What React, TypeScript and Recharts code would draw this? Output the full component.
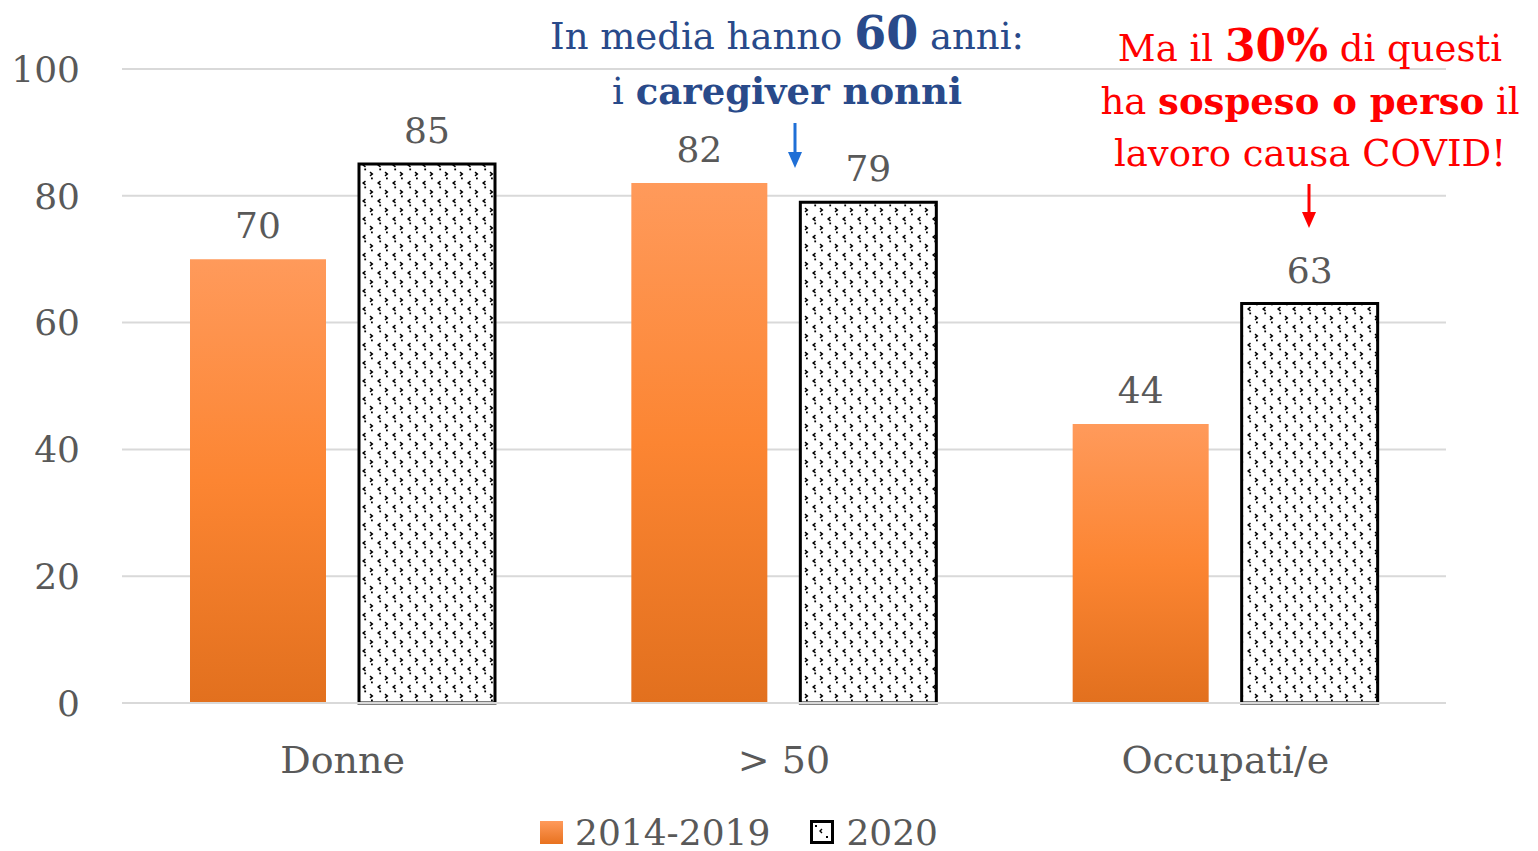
import React from 'react';
import { BarChart, Bar, XAxis, YAxis, CartesianGrid, LabelList, Legend } from 'recharts';

const categories = ['Donne', '> 50', 'Occupati/e'];
const series2014_2019 = [70, 82, 44];
const series2020 = [85, 79, 63];
const yTicks = [0, 20, 40, 60, 80, 100];
const seriesNames = ['2014-2019', '2020'];

const data = categories.map((c, i) => ({ cat: c, a: series2014_2019[i], b: series2020[i] }));

const FONT = '"DejaVu Serif", serif';
const GRAY = '#595959';
const BLUE = '#294A8A';
const RED = '#FF0000';

const PatternSwatch = ({ size }: { size: number }) => (
  <svg width={size} height={size} style={{ display: 'block' }}>
    <rect x={1.5} y={1.5} width={size - 3} height={size - 3} fill="#fff" stroke="#000" strokeWidth={3} />
    <path d="M12 9 L10 11 L12 13" stroke="#000" strokeWidth={1.4} fill="none" />
    <rect x={5} y={5} width={2} height={2} fill="#000" />
    <rect x={16} y={16} width={2} height={2} fill="#000" />
  </svg>
);

const LegendContent = () => (
  <div style={{ display: 'flex', alignItems: 'center', paddingLeft: 540, height: 44, paddingTop: 6, boxSizing: 'border-box', fontFamily: FONT, fontSize: 36, color: GRAY }}>
    <div style={{ width: 23, height: 23, background: 'linear-gradient(#FF9A5B, #E8721F)' }} />
    <span style={{ marginLeft: 12 }}>{seriesNames[0]}</span>
    <div style={{ marginLeft: 40 }}><PatternSwatch size={24} /></div>
    <span style={{ marginLeft: 12 }}>{seriesNames[1]}</span>
  </div>
);

const Arrow = ({ x, y1, y2, color }: { x: number; y1: number; y2: number; color: string }) => (
  <svg style={{ position: 'absolute', left: x - 10, top: y1, overflow: 'visible' }} width={20} height={y2 - y1}>
    <line x1={10} y1={0} x2={10} y2={y2 - y1 - 14} stroke={color} strokeWidth={3} />
    <polygon points={`${3},${y2 - y1 - 16} ${17},${y2 - y1 - 16} ${10},${y2 - y1}`} fill={color} />
  </svg>
);

export default function App() {
  return (
    <div style={{ position: 'absolute', left: 0, top: 0, width: 1538, height: 851, background: '#fff' }}>
      <BarChart
        width={1538}
        height={851}
        data={data}
        margin={{ top: 69, right: 92, left: 0, bottom: 0 }}
        barGap={33}
        barSize={136}
      >
        <defs>
          <linearGradient id="orangeGrad" x1="0" y1="0" x2="0" y2="1">
            <stop offset="0%" stopColor="#FF9A5B" />
            <stop offset="50%" stopColor="#FC8532" />
            <stop offset="100%" stopColor="#E2701E" />
          </linearGradient>
          <pattern id="dotPat" patternUnits="userSpaceOnUse" width={15} height={18}>
            <rect width={15} height={18} fill="#fff" />
            <path d="M5.5 1.2 L3.2 3 L5.5 4.8" stroke="#000" strokeWidth={1.5} fill="none" />
            <rect x={4.3} y={6.5} width={1.8} height={1.8} fill="#000" />
            <path d="M10 10.2 L12.3 12 L10 13.8" stroke="#000" strokeWidth={1.5} fill="none" />
            <rect x={11} y={15.5} width={1.8} height={1.8} fill="#000" />
          </pattern>
        </defs>
        <CartesianGrid vertical={false} stroke="#D9D9D9" strokeWidth={2} />
        <XAxis
          dataKey="cat"
          height={104}
          axisLine={{ stroke: '#D9D9D9', strokeWidth: 2 }}
          tickLine={false}
          tickMargin={37}
          tick={{ fill: GRAY, fontSize: 38, fontFamily: FONT }}
        />
        <YAxis
          width={122}
          domain={[0, 100]}
          ticks={yTicks}
          axisLine={false}
          tickLine={false}
          tickMargin={36}
          tick={{ fill: GRAY, fontSize: 36, fontFamily: FONT }}
        />
        <Legend verticalAlign="bottom" height={44} content={<LegendContent />} />
        <Bar dataKey="a" name={seriesNames[0]} fill="url(#orangeGrad)" isAnimationActive={false}>
          <LabelList dataKey="a" position="top" offset={21} fill={GRAY} fontSize={36} fontFamily={FONT} />
        </Bar>
        <Bar dataKey="b" name={seriesNames[1]} fill="url(#dotPat)" stroke="#000" strokeWidth={3} isAnimationActive={false}>
          <LabelList dataKey="b" position="top" offset={21} fill={GRAY} fontSize={36} fontFamily={FONT} stroke="none" />
        </Bar>
      </BarChart>

      <div style={{ position: 'absolute', left: 487, width: 600, top: 6, textAlign: 'center', fontFamily: FONT, color: BLUE, fontSize: 37, lineHeight: '54px' }}>
        <div>In media hanno <b style={{ fontSize: 46 }}>60</b> anni:</div>
        <div>i <b>caregiver nonni</b></div>
      </div>
      <Arrow x={795} y1={123} y2={168} color="#1F6FD6" />

      <div style={{ position: 'absolute', left: 1060, width: 500, top: 20, textAlign: 'center', fontFamily: FONT, color: RED, fontSize: 37, lineHeight: '52px' }}>
        <div>Ma il <b style={{ fontSize: 44 }}>30%</b> di questi</div>
        <div>ha <b>sospeso o perso</b> il</div>
        <div>lavoro causa COVID!</div>
      </div>
      <Arrow x={1309} y1={184} y2={228} color={RED} />
    </div>
  );
}
